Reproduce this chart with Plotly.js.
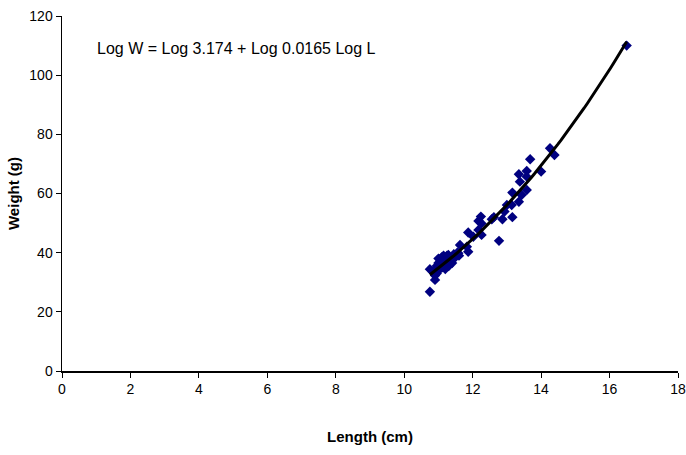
<!DOCTYPE html>
<html>
<head>
<meta charset="utf-8">
<script src="https://cdn.plot.ly/plotly-3.0.1.min.js"></script>
<style>
html,body{margin:0;padding:0;background:#fff;}
#chart{width:686px;height:455px;}
</style>
</head>
<body>
<div id="chart"></div>
<script>
// Observed data: length (cm) and weight (g)
var lengthCm = [
  10.75, 10.85, 10.90, 10.90, 10.75, 10.95, 11.00, 11.00, 11.05, 11.10,
  11.10, 11.15, 11.20, 11.20, 11.25, 11.30, 11.30, 11.35, 11.40, 11.45,
  11.50, 11.55, 11.60, 11.00, 11.15, 10.95, 11.29, 11.58, 11.63, 11.83,
  11.87, 12.02, 11.87, 12.17, 12.26, 12.24, 12.17, 12.26, 12.56, 12.62,
  12.77, 12.87, 12.93, 13.00, 13.14, 13.16, 13.35, 13.43, 13.16, 13.38,
  13.58, 13.58, 13.35, 13.58, 14.00, 13.68, 14.26, 14.39, 16.50
];
var weightG = [
  34.4, 33.5, 32.3, 30.8, 26.8, 35.5, 36.5, 34.0, 37.8, 35.0,
  38.5, 36.0, 37.0, 34.5, 39.0, 35.5, 37.5, 38.0, 36.5, 39.5,
  38.5, 40.0, 39.0, 38.0, 39.0, 33.0, 39.2, 39.8, 42.6, 42.0,
  40.3, 45.4, 46.8, 47.7, 46.0, 52.2, 50.7, 49.9, 51.3, 52.0,
  44.0, 51.3, 53.9, 56.1, 56.1, 52.0, 57.2, 59.5, 60.3, 64.0,
  61.2, 65.7, 66.5, 67.6, 67.4, 71.6, 75.3, 73.0, 110.0
];
var xTicks = [0, 2, 4, 6, 8, 10, 12, 14, 16, 18];
var yTicks = [0, 20, 40, 60, 80, 100, 120];
var equationText = "Log W = Log 3.174 + Log 0.0165 Log L";

// Power trendline (least squares on log-log), as a spreadsheet does
function powerFit(xs, ys) {
  var n = xs.length, sx = 0, sy = 0, sxx = 0, sxy = 0;
  for (var i = 0; i < n; i++) {
    var lx = Math.log(xs[i]), ly = Math.log(ys[i]);
    sx += lx; sy += ly; sxx += lx * lx; sxy += lx * ly;
  }
  var b = (n * sxy - sx * sy) / (n * sxx - sx * sx);
  var a = Math.exp((sy - b * sx) / n);
  return {a: a, b: b};
}
var fit = powerFit(lengthCm, weightG);
var xMin = Math.min.apply(null, lengthCm), xMax = Math.max.apply(null, lengthCm);
var fitX = [], fitY = [];
for (var k = 0; k <= 60; k++) {
  var xv = xMin + (xMax - xMin) * k / 60;
  fitX.push(xv);
  fitY.push(fit.a * Math.pow(xv, fit.b));
}

var traces = [
  {
    x: lengthCm, y: weightG, type: 'scatter', mode: 'markers',
    marker: {symbol: 'diamond', size: 8, color: '#000080', line: {width: 0}},
    hoverinfo: 'x+y', showlegend: false
  },
  {
    x: fitX, y: fitY, type: 'scatter', mode: 'lines',
    line: {color: '#000000', width: 3},
    hoverinfo: 'skip', showlegend: false
  }
];

var FAM = 'Liberation Sans, Arial, sans-serif';
var tickFont = {family: FAM, size: 14, color: '#000'};
var titleFont = {family: FAM, size: 15, color: '#000'};
var eqFont = {family: FAM, size: 16, color: '#000'};
var layout = {
  width: 686, height: 455,
  margin: {l: 62, r: 8, t: 16, b: 84},
  paper_bgcolor: '#fff', plot_bgcolor: '#fff',
  showlegend: false,
  font: tickFont,
  xaxis: {
    range: [0, 18], tickvals: xTicks, ticktext: xTicks.map(String),
    showgrid: false, zeroline: false,
    showline: true, linecolor: '#000', linewidth: 1.5,
    ticks: 'outside', ticklen: 5, tickcolor: '#000', tickwidth: 1,
    tickfont: tickFont,
    title: {text: '<b>Length (cm)</b>', font: titleFont, standoff: 35}
  },
  yaxis: {
    range: [0, 120], tickvals: yTicks, ticktext: yTicks.map(String),
    showgrid: false, zeroline: false,
    showline: true, linecolor: '#000', linewidth: 1.5,
    ticks: 'outside', ticklen: 5, tickcolor: '#000', tickwidth: 1,
    tickfont: tickFont,
    title: {text: '<b>Weight (g)</b>', font: titleFont, standoff: 6}
  },
  annotations: [{
    text: equationText, xref: 'paper', yref: 'paper',
    x: (95 - 62) / 616, y: (371 - 49) / 355,
    xanchor: 'left', yanchor: 'middle', showarrow: false,
    font: eqFont
  }]
};

Plotly.newPlot('chart', traces, layout, {displayModeBar: false, staticPlot: true});
</script>
</body>
</html>
